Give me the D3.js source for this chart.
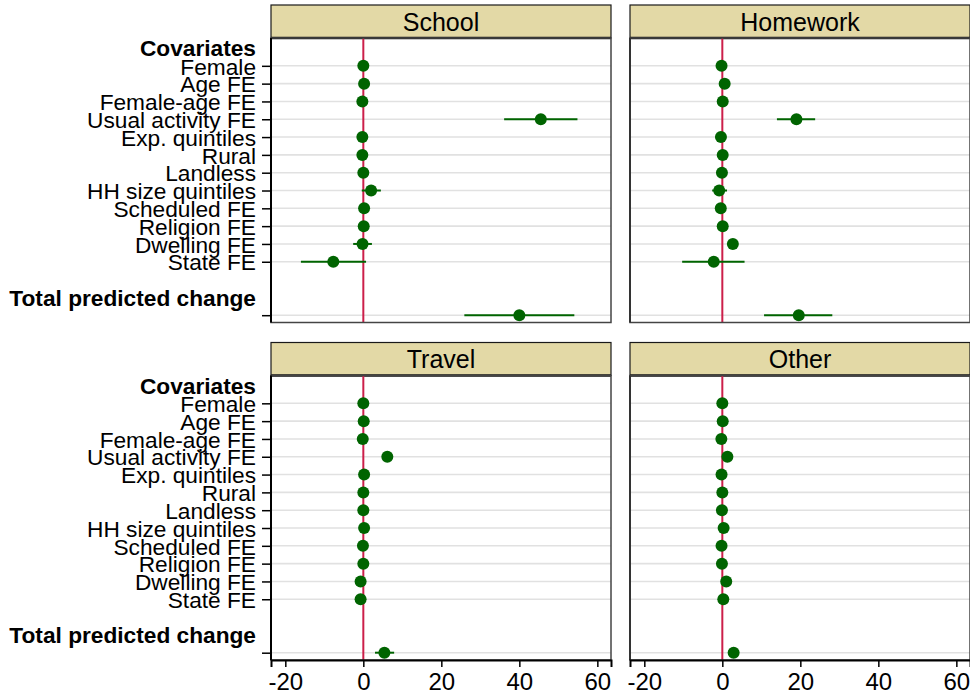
<!DOCTYPE html>
<html>
<head>
<meta charset="utf-8">
<script src="https://cdn.jsdelivr.net/npm/d3@7"></script>
<style>
body { margin: 0; background: #fff; }
text { font-family: "Liberation Sans", Arial, Helvetica, sans-serif; }
</style>
</head>
<body>
<div id="chart"></div>
<script>
// Data
let panels = [ 'School', 'Homework', 'Travel', 'Other' ];
let covariates = [ 'Female', 'Age FE', 'Female-age FE', 'Usual activity FE', 'Exp. quintiles', 'Rural',
    'Landless', 'HH size quintiles', 'Scheduled FE', 'Religion FE', 'Dwelling FE', 'State FE' ];
let heading_top = 'Covariates';
let heading_total = 'Total predicted change';
let x_ticks = [ -20, 0, 20, 40, 60 ];

let school_b  = [ 0.0, 0.2, -0.25, 45.5, -0.25, -0.25, 0.0, 2.0, 0.2, 0.1, -0.2, -7.7 ];
let school_lo = [ -0.8, -0.6, -1.0, 36.1, -1.0, -1.0, -0.8, -0.4, -0.6, -0.7, -2.6, -16.0 ];
let school_hi = [ 0.8, 1.0, 0.5, 54.9, 0.5, 0.5, 0.8, 4.5, 1.0, 0.9, 2.2, 0.7 ];
let school_total = [ 40.0, 25.9, 54.1 ];

let homework_b  = [ -0.2, 0.6, 0.1, 19.0, -0.35, 0.1, -0.1, -0.8, -0.4, 0.1, 2.7, -2.2 ];
let homework_lo = [ -0.9, -0.2, -0.7, 14.0, -1.1, -0.7, -0.9, -2.6, -1.2, -0.7, 1.9, -10.3 ];
let homework_hi = [ 0.5, 1.4, 0.9, 23.8, 0.4, 0.9, 0.7, 1.2, 0.4, 0.9, 3.5, 5.7 ];
let homework_total = [ 19.6, 10.7, 28.2 ];

let travel_b  = [ 0.0, 0.1, -0.15, 6.15, 0.2, 0.0, 0.0, 0.2, -0.1, 0.0, -0.7, -0.7 ];
let travel_lo = [ -0.6, -0.5, -0.7, 5.4, -0.4, -0.6, -0.6, -0.4, -0.7, -0.6, -1.3, -1.3 ];
let travel_hi = [ 0.6, 0.7, 0.4, 6.9, 0.8, 0.6, 0.6, 0.8, 0.5, 0.6, -0.1, -0.1 ];
let travel_total = [ 5.4, 3.0, 7.9 ];

let other_b  = [ 0.0, 0.1, -0.25, 1.3, -0.2, 0.0, -0.1, 0.33, -0.2, -0.1, 1.0, 0.25 ];
let other_lo = [ -0.5, -0.4, -0.7, 0.8, -0.7, -0.5, -0.6, -0.2, -0.7, -0.6, 0.5, -0.3 ];
let other_hi = [ 0.5, 0.6, 0.2, 1.8, 0.3, 0.5, 0.4, 0.9, 0.3, 0.4, 1.5, 0.8 ];
let other_total = [ 2.9, 1.9, 3.9 ];

let panel_data = [
    [ school_b, school_lo, school_hi, school_total ],
    [ homework_b, homework_lo, homework_hi, homework_total ],
    [ travel_b, travel_lo, travel_hi, travel_total ],
    [ other_b, other_lo, other_hi, other_total ]
];

// Layout
let chart_width = 970;
let chart_height = 698;
let panel_w = 340;
let strip_h = 33;
let plot_h = 284.5;
let col_x = [ 271, 630 ];
let row_y = [ 5, 342.5 ];
let font_size = 22.7;
let green = '#006400';

let svg = d3.select( '#chart' )
    .append( 'svg' )
    .attr( 'width', chart_width )
    .attr( 'height', chart_height );

let x_scale = d3.scaleLinear()
    .domain( [ -23.67, 63.5 ] )
    .range( [ 0, panel_w ] );

// row positions: 0 = heading, 1..12 = covariates, 14 = total heading, 15 = total
let y_scale = d3.scaleLinear()
    .domain( [ -0.562, 15.41 ] )
    .range( [ 0, plot_h ] );

let coef_rows = d3.range( 1, 13 ).concat( [ 15 ] );

panels.forEach( function( name, p ){
    let col = p % 2;
    let row = Math.floor( p / 2 );
    let b = panel_data[p][0], lo = panel_data[p][1], hi = panel_data[p][2], tot = panel_data[p][3];

    let rows = covariates.map( function( c, i ){
        return { pos: i + 1, b: b[i], lo: lo[i], hi: hi[i] };
    });
    rows.push( { pos: 15, b: tot[0], lo: tot[1], hi: tot[2] } );

    // strip
    let strip = svg.append( 'g' )
        .attr( 'transform', 'translate(' + col_x[col] + ',' + row_y[row] + ')' );
    strip.append( 'rect' )
        .attr( 'width', panel_w )
        .attr( 'height', strip_h )
        .attr( 'fill', '#e3d9a6' )
        .attr( 'stroke', '#1a1a1a' )
        .attr( 'stroke-width', 1.2 );
    strip.append( 'line' )
        .attr( 'x1', 0 ).attr( 'x2', panel_w )
        .attr( 'y1', strip_h ).attr( 'y2', strip_h )
        .attr( 'stroke', '#1a1a1a' )
        .attr( 'stroke-width', 2.4 );
    strip.append( 'text' )
        .text( name )
        .attr( 'x', panel_w / 2 )
        .attr( 'y', strip_h / 2 )
        .attr( 'dy', '0.36em' )
        .attr( 'text-anchor', 'middle' )
        .attr( 'font-size', 25 )
        .attr( 'fill', '#000' );

    let g = svg.append( 'g' )
        .attr( 'transform', 'translate(' + col_x[col] + ',' + ( row_y[row] + strip_h ) + ')' );

    // grid
    g.selectAll( 'line.grid' )
        .data( coef_rows )
        .enter()
        .append( 'line' )
        .attr( 'class', 'grid' )
        .attr( 'x1', 0 ).attr( 'x2', panel_w )
        .attr( 'y1', function( d ){ return y_scale(d); } )
        .attr( 'y2', function( d ){ return y_scale(d); } )
        .attr( 'stroke', '#e1e1e1' )
        .attr( 'stroke-width', 1.6 );

    // zero line
    g.append( 'line' )
        .attr( 'x1', x_scale(0) ).attr( 'x2', x_scale(0) )
        .attr( 'y1', 0 ).attr( 'y2', plot_h )
        .attr( 'stroke', '#cc1f4a' )
        .attr( 'stroke-width', 2 );

    // confidence intervals
    g.selectAll( 'line.ci' )
        .data( rows )
        .enter()
        .append( 'line' )
        .attr( 'class', 'ci' )
        .attr( 'x1', function( d ){ return x_scale( d.lo ); } )
        .attr( 'x2', function( d ){ return x_scale( d.hi ); } )
        .attr( 'y1', function( d ){ return y_scale( d.pos ); } )
        .attr( 'y2', function( d ){ return y_scale( d.pos ); } )
        .attr( 'stroke', green )
        .attr( 'stroke-width', 2 );

    // points
    g.selectAll( 'circle' )
        .data( rows )
        .enter()
        .append( 'circle' )
        .attr( 'cx', function( d ){ return x_scale( d.b ); } )
        .attr( 'cy', function( d ){ return y_scale( d.pos ); } )
        .attr( 'r', 6 )
        .attr( 'fill', green );

    // plot outline
    g.append( 'rect' )
        .attr( 'width', panel_w )
        .attr( 'height', plot_h )
        .attr( 'fill', 'none' )
        .attr( 'stroke', '#444' )
        .attr( 'stroke-width', 1.5 );

    // left axis
    if ( col === 0 ) {
        let y_axis = d3.axisLeft( y_scale )
            .tickValues( coef_rows )
            .tickSize( 9 )
            .tickPadding( 6 )
            .tickFormat( function( d ){ return d <= 12 ? covariates[d - 1] : ''; } );
        let ya = g.append( 'g' ).call( y_axis );
        ya.select( '.domain' ).remove();
        ya.selectAll( 'line' ).attr( 'stroke', '#000' ).attr( 'stroke-width', 1.5 );
        ya.selectAll( 'text' )
            .attr( 'font-size', font_size )
            .attr( 'font-family', null )
            .attr( 'fill', '#000' )
            .attr( 'dy', '0.36em' );

        g.selectAll( 'text.heading' )
            .data( [ [ 0, heading_top ], [ 14, heading_total ] ] )
            .enter()
            .append( 'text' )
            .attr( 'class', 'heading' )
            .text( function( d ){ return d[1]; } )
            .attr( 'x', -15 )
            .attr( 'y', function( d ){ return y_scale( d[0] ); } )
            .attr( 'dy', '0.36em' )
            .attr( 'text-anchor', 'end' )
            .attr( 'font-size', font_size )
            .attr( 'font-weight', 'bold' )
            .attr( 'fill', '#000' );
    }
    g.append( 'line' )
        .attr( 'x1', 0 ).attr( 'x2', 0 )
        .attr( 'y1', 0 ).attr( 'y2', plot_h )
        .attr( 'stroke', col === 0 ? '#000' : '#333' )
        .attr( 'stroke-width', 2 );

    // bottom axis
    if ( row === 1 ) {
        let x_axis = d3.axisBottom( x_scale )
            .tickValues( x_ticks )
            .tickSize( 7 )
            .tickPadding( 6 )
            .tickFormat( function( d ){ return String( d ); } );
        let xa = g.append( 'g' )
            .attr( 'transform', 'translate(0,' + plot_h + ')' )
            .call( x_axis );
        xa.select( '.domain' ).attr( 'stroke', '#000' ).attr( 'stroke-width', 2 );
        xa.selectAll( 'line' ).attr( 'stroke', '#000' ).attr( 'stroke-width', 1.5 );
        xa.selectAll( 'text' )
            .attr( 'font-size', 24 )
            .attr( 'font-family', null )
            .attr( 'fill', '#000' );
    }
});
</script>
</body>
</html>
